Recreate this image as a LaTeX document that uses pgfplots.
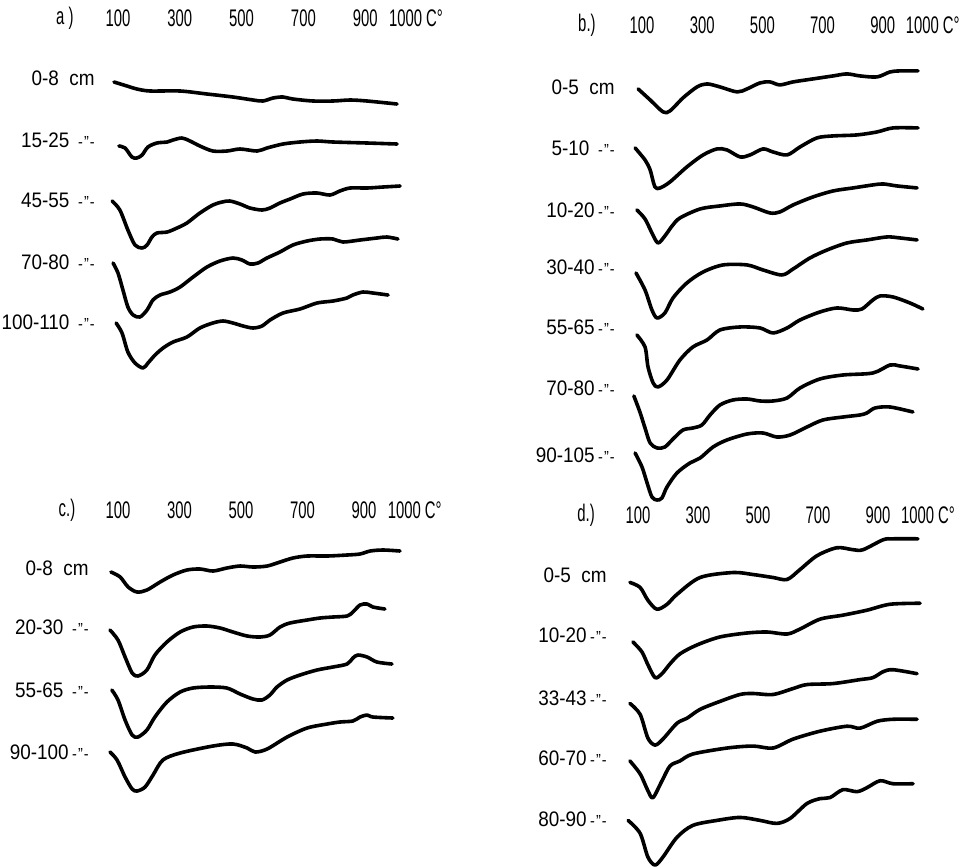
\documentclass[border=0pt]{standalone}
\usepackage{fontspec}
\setmainfont{Liberation Sans}[FakeStretch=0.9]
\newfontfamily\hdr{Liberation Sans}[FakeStretch=0.62]
\usepackage{pgfplots}
\pgfplotsset{compat=1.18}
\newcommand{\dit}{\,{\fontsize{8}{8}\selectfont -\kern0.5pt''\kern0.5pt-}}
\newcommand{\lbl}{\fontsize{10.5}{12}\selectfont}
\newcommand{\hlb}{\hdr\fontsize{12}{13}\selectfont}
\pgfplotsset{
  dta/.style={scale only axis, clip=false, y dir=reverse,
    axis line style={draw=none}, major tick length=0pt, tick style={draw=none},
    xtick pos=upper, xticklabel pos=upper, ytick pos=left,
    xticklabel style={anchor=center, inner sep=0pt, font=\hlb},
    yticklabel style={anchor=east, inner sep=0pt, font=\lbl},
    xmin=100, xmax=1000,
    xtick={100,300,500,700,900,1000},
    xticklabels={100,300,500,700,900,\makebox[0pt][l]{\hspace{-3.5pt}1000\,C°}},
    /pgf/number format/assume math mode=true},
  crv/.style={black, line width=1.8pt, smooth, tension=0.5, line join=round, line cap=round},
}
\begin{document}
\begin{tikzpicture}
\useasboundingbox (0,0) rectangle (481pt,-433.5pt);
% ---------------- a)
\begin{axis}[dta, at={(59pt,-190pt)}, anchor=south west, width=139.05pt, height=181pt,
  ymin=18, ymax=380, ytick={78,140,200,262,322},
  yticklabels={0-8 \ cm, 15-25 \dit, 45-55 \dit, 70-80 \dit, 100-110 \dit},
  yticklabel style={xshift=-11.5pt}]
\node[font=\hlb] at (axis cs:-72,18) {a )};
\addplot[crv] coordinates {(87,82)(129,86)(161,89)(204,91)(301,91)(388,94)(472,97)(537,100)(569,101)(602,98)(634,97)(666,99)(731,101)(796,101)(851,100)(906,101)(1003,104)};
\addplot[crv] coordinates {(103,146)(123,148)(145,157)(161,158)(178,155)(197,147)(226,143)(259,142)(278,140)(307,138)(333,141)(365,146)(407,151)(453,151)(495,149)(550,151)(582,148)(634,144)(689,142)(744,141)(796,142)(906,143)(1003,144)};
\addplot[crv] coordinates {(81,201)(106,210)(132,230)(155,245)(178,248)(194,245)(210,237)(226,233)(259,232)(291,228)(323,223)(365,213)(407,205)(437,202)(462,201)(495,204)(527,208)(566,210)(592,208)(624,203)(657,199)(699,194)(744,193)(786,195)(818,191)(851,188)(906,188)(958,187)(1013,186)};
\addplot[crv] coordinates {(84,263)(100,273)(116,290)(132,307)(149,315)(171,317)(194,310)(213,300)(236,295)(268,292)(301,287)(343,277)(388,267)(430,261)(472,258)(501,260)(527,264)(553,263)(582,258)(624,252)(666,245)(712,241)(754,239)(796,239)(828,242)(883,240)(938,238)(970,237)(1006,239)};
\addplot[crv] coordinates {(94,323)(113,333)(132,352)(155,363)(181,368)(197,363)(220,355)(246,348)(278,342)(323,337)(365,328)(407,323)(440,321)(472,323)(505,326)(537,328)(566,326)(592,320)(634,313)(689,309)(744,303)(796,301)(841,298)(860,295)(893,292)(925,293)(974,295)};
\end{axis}
% ---------------- b)
\begin{axis}[dta, at={(321pt,-255pt)}, anchor=south west, width=135.45pt, height=242.5pt,
  ymin=25, ymax=510, ytick={87,148,210,267,327,388,455},
  yticklabels={0-5 \ cm, 5-10 \dit, 10-20\dit, 30-40\dit, 55-65\dit, 70-80\dit, 90-105\dit},
  yticklabel style={xshift=-13.5pt}]
\node[font=\hlb] at (axis cs:-83,25) {b.)};
\addplot[crv] coordinates {(87,89)(127,100)(170,112)(193,111)(236,98)(283,87)(316,84)(359,87)(416,92)(449,89)(492,83)(525,82)(558,85)(602,82)(668,79)(735,76)(781,74)(824,76)(881,77)(924,72)(957,71)(1017,71)};
\addplot[crv] coordinates {(77,148)(110,160)(127,170)(143,187)(160,188)(193,182)(249,167)(303,155)(349,149)(382,150)(426,157)(459,155)(502,149)(535,152)(582,155)(625,147)(681,138)(735,136)(814,135)(881,132)(934,128)(1017,128)};
\addplot[crv] coordinates {(83,210)(110,219)(133,233)(153,243)(176,236)(200,226)(226,218)(293,209)(359,206)(426,204)(469,207)(525,213)(558,212)(602,205)(668,197)(735,191)(801,188)(867,185)(901,184)(947,186)(1014,188)};
\addplot[crv] coordinates {(80,273)(110,290)(133,310)(150,318)(176,313)(203,298)(249,283)(303,272)(369,265)(449,265)(502,270)(565,275)(602,269)(658,258)(715,250)(781,243)(847,240)(914,237)(957,238)(1014,240)};
\addplot[crv] coordinates {(83,335)(110,347)(120,367)(137,383)(153,387)(183,380)(226,360)(269,347)(316,340)(359,330)(426,327)(492,328)(535,333)(582,328)(625,320)(691,312)(748,308)(801,310)(831,309)(867,300)(891,296)(934,297)(990,303)(1033,309)};
\addplot[crv] coordinates {(73,396)(93,412)(110,428)(127,443)(150,448)(176,447)(203,439)(236,430)(269,428)(299,425)(326,415)(359,405)(402,400)(449,399)(492,401)(535,401)(582,398)(625,388)(691,379)(768,375)(867,373)(924,365)(957,366)(1017,369)};
\addplot[crv] coordinates {(77,453)(100,467)(117,483)(133,497)(150,500)(166,498)(183,487)(216,473)(259,463)(293,458)(336,447)(382,440)(449,434)(502,433)(548,437)(592,435)(648,427)(701,420)(768,417)(824,415)(847,413)(874,408)(924,407)(1000,412)};
\end{axis}
% ---------------- c)
\begin{axis}[dta, at={(59pt,-400pt)}, anchor=south west, width=138.375pt, height=145pt,
  ymin=510, ymax=800, ytick={568,627,690,752},
  yticklabels={0-8 \ cm, 20-30 \dit, 55-65 \dit, 90-100\dit},
  yticklabel style={xshift=-14.5pt}]
\node[font=\hlb] at (axis cs:-66,510) {c.)};
\addplot[crv] coordinates {(77,572)(107,577)(133,587)(162,592)(194,590)(237,582)(279,575)(324,570)(367,569)(409,571)(454,568)(497,566)(539,567)(585,566)(627,562)(669,558)(715,556)(780,556)(845,555)(887,554)(920,551)(962,550)(1017,551)};
\addplot[crv] coordinates {(74,630)(100,640)(123,657)(146,673)(165,676)(194,670)(220,655)(259,642)(302,632)(344,627)(389,626)(432,628)(474,632)(520,636)(562,637)(594,635)(627,627)(659,623)(715,620)(757,618)(799,617)(845,616)(864,612)(887,605)(910,604)(929,607)(968,609)};
\addplot[crv] coordinates {(80,690)(100,700)(123,720)(146,735)(165,737)(194,730)(220,717)(259,702)(302,692)(344,688)(399,687)(454,688)(497,694)(539,699)(568,700)(594,695)(617,687)(650,680)(692,675)(747,670)(799,667)(845,664)(864,658)(880,655)(910,657)(942,662)(991,664)};
\addplot[crv] coordinates {(74,752)(97,760)(123,777)(146,789)(162,791)(188,787)(214,775)(246,760)(302,753)(409,746)(474,744)(520,748)(546,752)(585,749)(650,737)(715,728)(780,724)(822,722)(864,721)(887,717)(910,715)(929,717)(994,718)};
\end{axis}
% ---------------- d)
\begin{axis}[dta, at={(319pt,-433.5pt)}, anchor=south west, width=135pt, height=176pt,
  ymin=512, ymax=867, ytick={573,633,697,757,819},
  yticklabels={0-5 \ cm, 10-20\dit, 33-43\dit, 60-70\dit, 80-90\dit},
  yticklabel style={xshift=-15.5pt}]
\node[font=\hlb] at (axis cs:-73,512) {d.)};
\addplot[crv] coordinates {(73,580)(107,585)(133,598)(163,607)(197,602)(230,592)(307,575)(417,570)(483,572)(550,575)(597,577)(640,567)(697,553)(763,545)(817,547)(850,547)(917,537)(950,536)(1033,536)};
\addplot[crv] coordinates {(83,640)(113,650)(133,663)(157,676)(180,672)(207,662)(240,652)(297,643)(373,635)(463,631)(530,630)(597,632)(640,627)(707,617)(783,613)(863,608)(940,602)(1040,601)};
\addplot[crv] coordinates {(73,702)(107,713)(133,737)(157,744)(183,738)(230,722)(263,717)(307,708)(373,700)(440,693)(483,692)(550,693)(617,687)(663,683)(750,682)(840,678)(883,676)(917,670)(950,668)(1030,672)};
\addplot[crv] coordinates {(73,760)(107,773)(133,790)(150,797)(180,780)(207,765)(240,760)(283,753)(397,747)(483,745)(550,747)(617,738)(707,730)(797,725)(840,727)(897,720)(950,718)(1030,718)};
\addplot[crv] coordinates {(67,820)(107,833)(133,857)(157,865)(183,857)(230,837)(283,825)(363,820)(440,817)(507,820)(563,823)(607,818)(663,803)(707,798)(740,797)(783,789)(830,791)(863,787)(907,780)(950,783)(1017,783)};
\end{axis}
\end{tikzpicture}
\end{document}
